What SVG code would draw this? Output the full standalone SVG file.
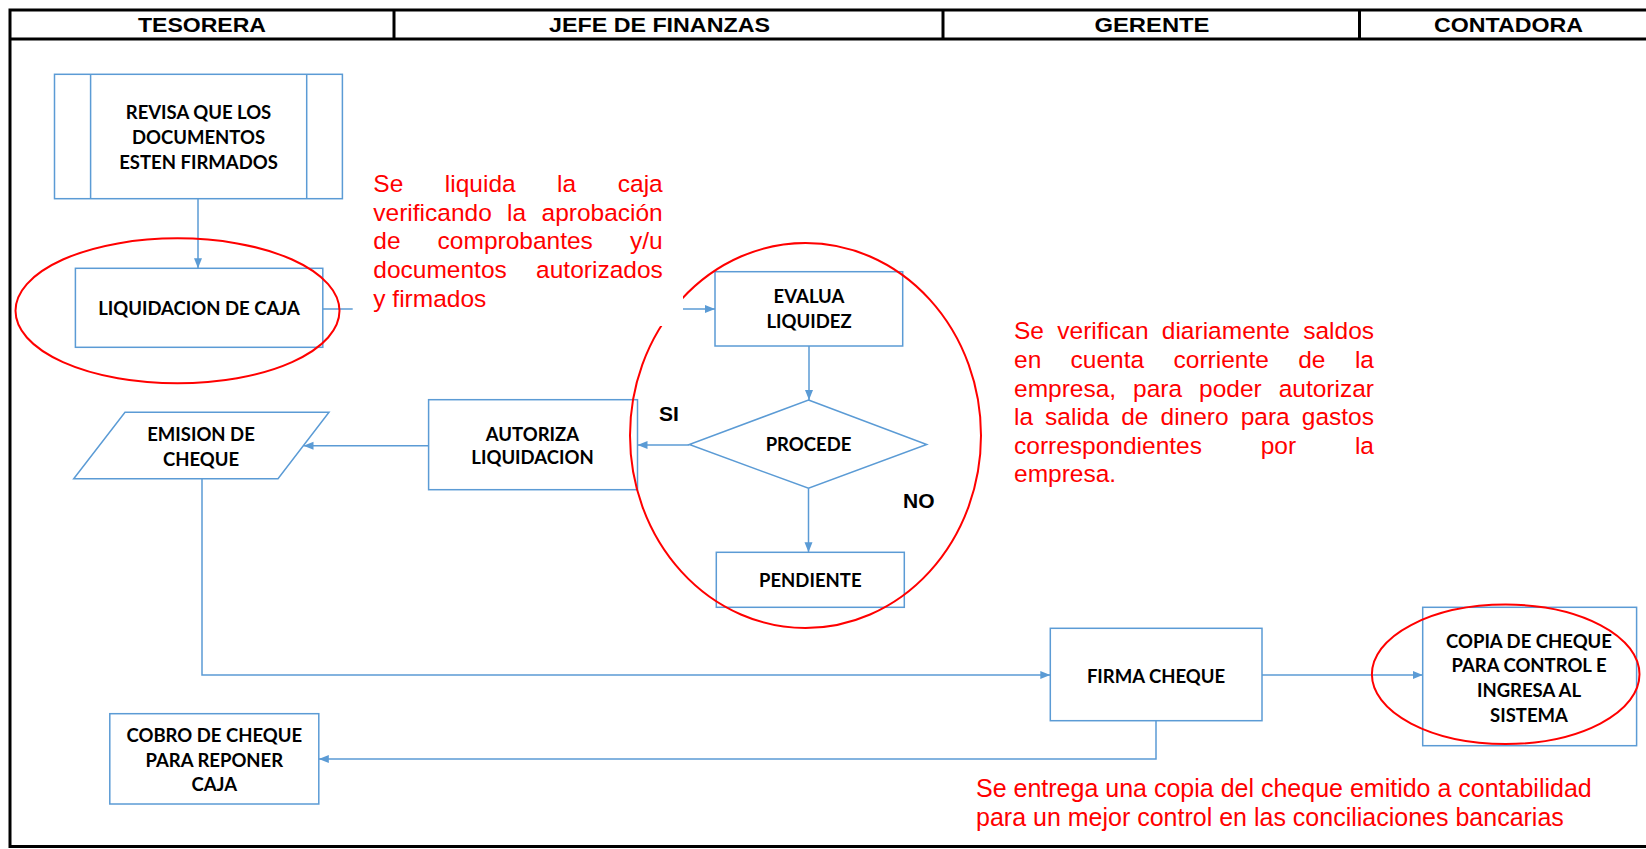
<svg xmlns="http://www.w3.org/2000/svg" width="1646" height="849" viewBox="0 0 1646 849">
<style>
.frame{fill:none;stroke:#000;stroke-width:3}
.hdr{font-family:"Liberation Sans",Arial,sans-serif;font-weight:700;font-size:20px;fill:#000;text-anchor:middle}
.box{fill:#fff;stroke:#5B9BD5;stroke-width:1.5}
.lbl{font-family:Lato,"Open Sans",sans-serif;font-weight:700;font-size:18.5px;fill:#000;text-anchor:middle}
.con{fill:none;stroke:#5B9BD5;stroke-width:1.5}
.red{fill:none;stroke:#FF0000;stroke-width:2}
.note{font-family:"Liberation Sans",Arial,sans-serif;font-size:24.5px;fill:#FF0000}
.yn{font-family:"Liberation Sans",Arial,sans-serif;font-weight:700;font-size:21px;fill:#000}
</style>
<defs>
<marker id="arr" markerUnits="userSpaceOnUse" markerWidth="11" markerHeight="9" refX="10" refY="4" orient="auto">
<path d="M0,0 L10,4 L0,8 Z" fill="#5B9BD5"/>
</marker>
</defs>
<rect x="0" y="0" width="1646" height="849" fill="#fff"/>
<g id="header">
<path class="frame" d="M1650 10 H10 V846.5 H1650"/>
<line class="frame" x1="10" y1="39" x2="1650" y2="39"/>
<line class="frame" x1="394" y1="10" x2="394" y2="39"/>
<line class="frame" x1="943" y1="10" x2="943" y2="39"/>
<line class="frame" x1="1359.5" y1="10" x2="1359.5" y2="39"/>
<text class="hdr" x="202" y="31.5" textLength="128" lengthAdjust="spacingAndGlyphs">TESORERA</text>
<text class="hdr" x="659.5" y="31.5" textLength="221" lengthAdjust="spacingAndGlyphs">JEFE DE FINANZAS</text>
<text class="hdr" x="1152" y="31.5" textLength="115" lengthAdjust="spacingAndGlyphs">GERENTE</text>
<text class="hdr" x="1508.5" y="31.5" textLength="149" lengthAdjust="spacingAndGlyphs">CONTADORA</text>
</g>
<g id="connectors">
<path class="con" d="M198 198.7 V268.3" marker-end="url(#arr)"/>
<path class="con" d="M322.8 309 H715" marker-end="url(#arr)"/>
<path class="con" d="M809 346 V400" marker-end="url(#arr)"/>
<path class="con" d="M689.3 445 H637.5" marker-end="url(#arr)"/>
<path class="con" d="M808.5 488.3 V552.3" marker-end="url(#arr)"/>
<path class="con" d="M428.6 445.7 H303.5" marker-end="url(#arr)"/>
<path class="con" d="M202 479 V675 H1050.3" marker-end="url(#arr)"/>
<path class="con" d="M1262 675 H1422.7" marker-end="url(#arr)"/>
<path class="con" d="M1156 720.7 V759 H318.8" marker-end="url(#arr)"/>
</g>
<g id="revisa">
<rect class="box" x="54.5" y="74.3" width="287.9" height="124.4"/>
<line class="con" x1="90.6" y1="74.3" x2="90.6" y2="198.7"/>
<line class="con" x1="306.7" y1="74.3" x2="306.7" y2="198.7"/>
<text class="lbl" x="198.5" y="119.2">REVISA QUE LOS</text>
<text class="lbl" x="198.5" y="143.8">DOCUMENTOS</text>
<text class="lbl" x="198.5" y="168.8">ESTEN FIRMADOS</text>
</g>
<g id="liquidacion">
<rect class="box" x="75.4" y="268.3" width="247.4" height="79"/>
<text class="lbl" x="199" y="314.8">LIQUIDACION DE CAJA</text>
</g>
<g id="evalua">
<rect class="box" x="715" y="271.7" width="187.7" height="74.3"/>
<text class="lbl" x="809" y="303.2">EVALUA</text>
<text class="lbl" x="809" y="327.5">LIQUIDEZ</text>
</g>
<g id="procede">
<polygon class="box" points="808.5,400 926.7,444.5 808.5,488.3 689.3,444.5"/>
<text class="lbl" x="808.5" y="450.8">PROCEDE</text>
</g>
<g id="pendiente">
<rect class="box" x="716.3" y="552.3" width="188" height="55"/>
<text class="lbl" x="810.3" y="587.2">PENDIENTE</text>
</g>
<g id="autoriza">
<rect class="box" x="428.6" y="399.7" width="208.9" height="90"/>
<text class="lbl" x="532.5" y="440.5">AUTORIZA</text>
<text class="lbl" x="532.5" y="463.8">LIQUIDACION</text>
</g>
<g id="emision">
<polygon class="box" points="125,412.3 329,412.3 278,478.7 73.7,478.7"/>
<text class="lbl" x="201" y="440.5">EMISION DE</text>
<text class="lbl" x="201" y="465.5">CHEQUE</text>
</g>
<g id="cobro">
<rect class="box" x="109.8" y="713.7" width="209" height="90.3"/>
<text class="lbl" x="214.3" y="741.5">COBRO DE CHEQUE</text>
<text class="lbl" x="214.3" y="766.5">PARA REPONER</text>
<text class="lbl" x="214.3" y="790.8">CAJA</text>
</g>
<g id="firma">
<rect class="box" x="1050.3" y="628.3" width="211.7" height="92.4"/>
<text class="lbl" x="1156" y="682.5">FIRMA CHEQUE</text>
</g>
<g id="copia">
<rect class="box" x="1422.7" y="607.3" width="213.9" height="138.4"/>
<text class="lbl" x="1529" y="647.5">COPIA DE CHEQUE</text>
<text class="lbl" x="1529" y="672.2">PARA CONTROL E</text>
<text class="lbl" x="1529" y="696.5">INGRESA AL</text>
<text class="lbl" x="1529" y="721.5">SISTEMA</text>
</g>
<g id="labels">
<text class="yn" x="659" y="420.8">SI</text>
<text class="yn" x="903" y="507.5">NO</text>
</g>
<g id="highlights">
<ellipse class="red" cx="177.5" cy="310.8" rx="162" ry="72.5"/>
<ellipse class="red" cx="805.5" cy="435.5" rx="175.5" ry="192.5"/>
<ellipse class="red" cx="1505.7" cy="674.3" rx="133.8" ry="69.7"/>
</g>
<g id="note-caja">
<rect x="352.7" y="165" width="330.3" height="161" fill="#fff"/>
<text class="note"><tspan x="373.3" y="191.7">Se</tspan><tspan x="444.8" y="191.7">liquida</tspan><tspan x="557.1" y="191.7">la</tspan><tspan x="617.8" y="191.7">caja</tspan></text>
<text class="note"><tspan x="373.3" y="220.7">verificando</tspan><tspan x="507.1" y="220.7">la</tspan><tspan x="541.5" y="220.7">aprobación</tspan></text>
<text class="note"><tspan x="373.3" y="249.3">de</tspan><tspan x="437.6" y="249.3">comprobantes</tspan><tspan x="630" y="249.3">y/u</tspan></text>
<text class="note"><tspan x="373.3" y="278.3">documentos</tspan><tspan x="536.1" y="278.3">autorizados</tspan></text>
<text class="note" x="373.3" y="306.7">y firmados</text>
</g>
<g id="note-saldos">
<text class="note"><tspan x="1014" y="339.3">Se</tspan><tspan x="1057.3" y="339.3">verifican</tspan><tspan x="1161.8" y="339.3">diariamente</tspan><tspan x="1303.2" y="339.3">saldos</tspan></text>
<text class="note"><tspan x="1014" y="368.3">en</tspan><tspan x="1070.6" y="368.3">cuenta</tspan><tspan x="1173.5" y="368.3">corriente</tspan><tspan x="1298.2" y="368.3">de</tspan><tspan x="1354.9" y="368.3">la</tspan></text>
<text class="note"><tspan x="1014" y="396.7">empresa,</tspan><tspan x="1133.1" y="396.7">para</tspan><tspan x="1199.1" y="396.7">poder</tspan><tspan x="1278.7" y="396.7">autorizar</tspan></text>
<text class="note"><tspan x="1014" y="425.3">la</tspan><tspan x="1045.1" y="425.3">salida</tspan><tspan x="1121.2" y="425.3">de</tspan><tspan x="1160.5" y="425.3">dinero</tspan><tspan x="1240.7" y="425.3">para</tspan><tspan x="1301.8" y="425.3">gastos</tspan></text>
<text class="note"><tspan x="1014" y="454">correspondientes</tspan><tspan x="1260.7" y="454">por</tspan><tspan x="1354.9" y="454">la</tspan></text>
<text class="note" x="1014" y="481.7">empresa.</text>
</g>
<g id="note-copia">
<text class="note" style="font-size:25px" x="976" y="797">Se entrega una copia del cheque emitido a contabilidad</text>
<text class="note" style="font-size:25px" x="976" y="826">para un mejor control en las conciliaciones bancarias</text>
</g>
</svg>
